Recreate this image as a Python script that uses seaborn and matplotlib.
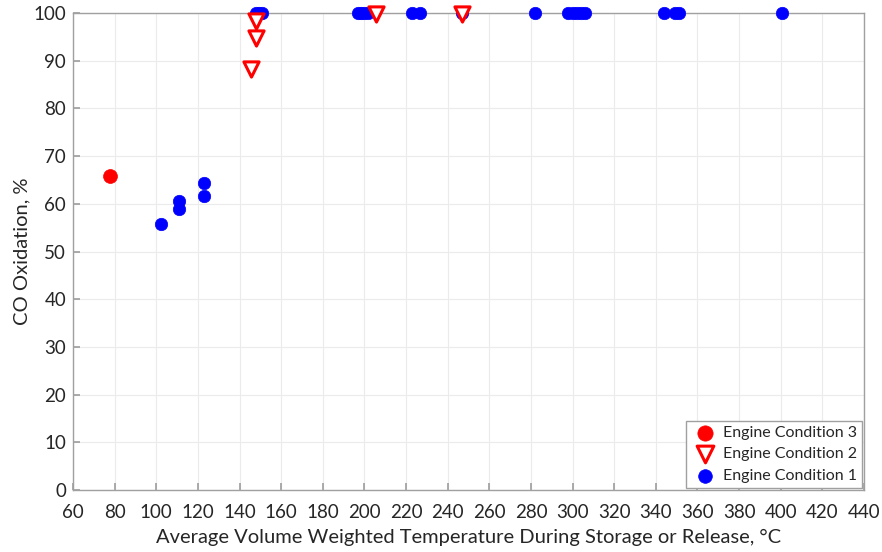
import matplotlib
matplotlib.use("Agg")
import matplotlib.pyplot as plt
import seaborn as sns
import pandas as pd

# Engine Condition 1 (blue circles)
ec1_temp = [102.5, 111, 111, 122.9, 122.9, 148, 149.5, 151,
            197, 198.5, 200, 201.5, 223, 226.5, 246.8, 282,
            298, 300, 302, 304, 306, 344, 349, 351, 400.8]
ec1_co = [55.8, 60.6, 58.9, 64.3, 61.6, 100, 100, 100,
          100, 100, 100, 100, 100, 100, 100, 100,
          100, 100, 100, 100, 100, 100, 100, 100, 100]
# Engine Condition 2 (red open triangles)
ec2_temp = [145.7, 148.1, 148.1, 205.7, 246.8]
ec2_co = [88.3, 94.7, 98.3, 99.8, 99.8]
# Engine Condition 3 (red circle)
ec3_temp = [77.8]
ec3_co = [65.9]

x_ticks = list(range(60, 441, 20))
y_ticks = list(range(0, 101, 10))

sns.set_theme(style="whitegrid")
plt.rcParams['font.family'] = ['Lato', 'DejaVu Sans']

fig = plt.figure(figsize=(8.82, 5.52), dpi=100)
ax = fig.add_axes([0.0828, 0.1123, 0.8968, 0.8641])

df1 = pd.DataFrame({"t": ec1_temp, "co": ec1_co})
df2 = pd.DataFrame({"t": ec2_temp, "co": ec2_co})
df3 = pd.DataFrame({"t": ec3_temp, "co": ec3_co})

sns.scatterplot(data=df1, x="t", y="co", ax=ax, color="#0000ff", marker="o",
                s=80, edgecolor="#0000ff", linewidth=0.5, zorder=3, clip_on=False,
                label="Engine Condition 1")
sns.scatterplot(data=df2, x="t", y="co", ax=ax, marker="v", s=120,
                facecolor="white", edgecolor="#ff0000", linewidth=2.2, zorder=4,
                clip_on=False, label="Engine Condition 2")
sns.scatterplot(data=df3, x="t", y="co", ax=ax, color="#ff0000", marker="o",
                s=100, edgecolor="#ff0000", linewidth=0.5, zorder=5, clip_on=False,
                label="Engine Condition 3")

ax.set_xlim(60, 440)
ax.set_ylim(0, 100)
ax.set_xticks(x_ticks)
ax.set_yticks(y_ticks)
ax.grid(True, color="#ebebeb", linewidth=0.8)
for sp in ax.spines.values():
    sp.set_visible(True)
    sp.set_color("#a0a0a0")
    sp.set_linewidth(1.0)
ax.tick_params(axis="both", direction="in", length=5, color="#a0a0a0",
               labelsize=13.5, labelcolor="#262626", bottom=True, left=True)
ax.tick_params(axis="x", pad=10)
ax.tick_params(axis="y", pad=5)
ax.set_xlabel("Average Volume Weighted Temperature During Storage or Release, °C",
              fontsize=14.5, color="#262626", labelpad=6)
ax.set_ylabel("CO Oxidation, %", fontsize=14.5, color="#262626", labelpad=2)

handles, labels = ax.get_legend_handles_labels()
leg = ax.legend(handles[::-1], labels[::-1], loc="lower right", fontsize=11.5,
                frameon=True, fancybox=False, edgecolor="#a0a0a0",
                framealpha=1, borderpad=0.3, handletextpad=0.2, handlelength=1.8,
                labelspacing=0.45, borderaxespad=0.15, markerscale=1.1)
leg.get_frame().set_linewidth(1.0)

fig.savefig("out.png", dpi=100)
